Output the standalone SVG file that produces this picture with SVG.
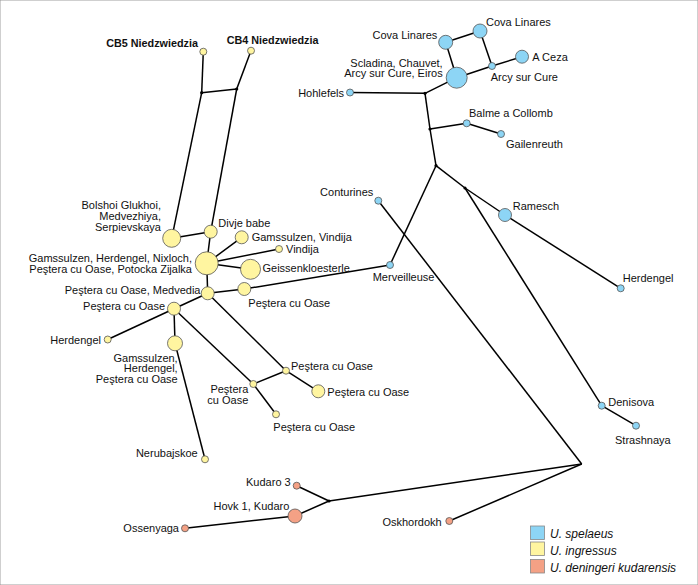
<svg xmlns="http://www.w3.org/2000/svg" width="698" height="585" viewBox="0 0 698 585">
<style>
text{font-family:"Liberation Sans",Arial,sans-serif;font-size:11px;fill:#111}
.b{font-weight:bold;font-size:10.8px}
.e{text-anchor:end}
.lg{font-style:italic;font-size:12px}
circle{stroke:#555;stroke-width:0.8}
.sp{fill:#8dd5f5}
.in{fill:#fff5a0}
.dk{fill:#f4a185}
#edges line{stroke:#000;stroke-width:1.5}
.j{fill:#000;stroke:none}
rect{stroke:#888;stroke-width:0.8}
</style>
<rect width="698" height="585" fill="#fff" stroke="none"/>
<g id="edges">
<line x1="203.3" y1="51.7" x2="201.7" y2="92.7"/>
<line x1="251" y1="50.7" x2="236.7" y2="89"/>
<line x1="201.7" y1="92.7" x2="236.7" y2="89"/>
<line x1="201.7" y1="92.7" x2="171.7" y2="238.3"/>
<line x1="236.7" y1="89" x2="210.7" y2="231.7"/>
<line x1="171.7" y1="238.3" x2="210.7" y2="231.7"/>
<line x1="210.7" y1="231.7" x2="206.7" y2="263.3"/>
<line x1="206.7" y1="263.3" x2="241.7" y2="237.3"/>
<line x1="206.7" y1="263.3" x2="279" y2="249"/>
<line x1="206.7" y1="263.3" x2="250.5" y2="269.3"/>
<line x1="206.7" y1="263.3" x2="207.7" y2="293.3"/>
<line x1="207.7" y1="293.3" x2="174" y2="308.7"/>
<line x1="207.7" y1="293.3" x2="244.3" y2="289"/>
<line x1="244.3" y1="289" x2="390" y2="265"/>
<line x1="207.7" y1="293.3" x2="286" y2="370.7"/>
<line x1="286" y1="370.7" x2="318.3" y2="391.3"/>
<line x1="174" y1="308.7" x2="253.3" y2="384"/>
<line x1="253.3" y1="384" x2="286" y2="370.7"/>
<line x1="253.3" y1="384" x2="276" y2="414.3"/>
<line x1="174" y1="308.7" x2="107.7" y2="339.5"/>
<line x1="174" y1="308.7" x2="175" y2="343.3"/>
<line x1="175" y1="343.3" x2="205" y2="459.3"/>
<line x1="390" y1="265" x2="436" y2="165.7"/>
<line x1="436" y1="165.7" x2="430" y2="129"/>
<line x1="430" y1="129" x2="425" y2="93.3"/>
<line x1="425" y1="93.3" x2="350" y2="92.5"/>
<line x1="425" y1="93.3" x2="456.7" y2="77.7"/>
<line x1="456.7" y1="77.7" x2="445.7" y2="42.3"/>
<line x1="445.7" y1="42.3" x2="480" y2="31"/>
<line x1="480" y1="31" x2="492" y2="66"/>
<line x1="456.7" y1="77.7" x2="492" y2="66"/>
<line x1="492" y1="66" x2="522" y2="56.7"/>
<line x1="430" y1="129" x2="466.7" y2="123.3"/>
<line x1="466.7" y1="123.3" x2="501" y2="134"/>
<line x1="436" y1="165.7" x2="465" y2="188"/>
<line x1="465" y1="188" x2="505" y2="215"/>
<line x1="505" y1="215" x2="620.7" y2="288.3"/>
<line x1="465" y1="188" x2="601.7" y2="405.7"/>
<line x1="601.7" y1="405.7" x2="636" y2="425.7"/>
<line x1="378.3" y1="200.7" x2="581.7" y2="464"/>
<line x1="581.7" y1="464" x2="449.3" y2="521"/>
<line x1="581.7" y1="464" x2="329" y2="501"/>
<line x1="329" y1="501" x2="296.7" y2="485.7"/>
<line x1="329" y1="501" x2="295" y2="516"/>
<line x1="295" y1="516" x2="185" y2="528.3"/>
</g>
<g id="junctions">
<circle class="j" cx="201.7" cy="92.7" r="1.6"/>
<circle class="j" cx="236.7" cy="89" r="1.6"/>
<circle class="j" cx="425" cy="93.3" r="1.6"/>
<circle class="j" cx="430" cy="129" r="1.6"/>
<circle class="j" cx="436" cy="165.7" r="1.6"/>
<circle class="j" cx="465" cy="188" r="1.6"/>
<circle class="j" cx="329" cy="501" r="1.6"/>
</g>
<g id="n_cb5"><circle class="in" cx="203.3" cy="51.7" r="3.5"/><text class="b e" x="198" y="46.5">CB5 Niedzwiedzia</text></g>
<g id="n_cb4"><circle class="in" cx="251" cy="50.7" r="3.5"/><text class="b" x="226.7" y="43.5">CB4 Niedzwiedzia</text></g>
<g id="n_bolshoi"><circle class="in" cx="171.7" cy="238.3" r="9"/><text class="e" x="161" y="209">Bolshoi Glukhoi,</text><text class="e" x="161" y="220">Medvezhiya,</text><text class="e" x="161" y="230.5">Serpievskaya</text></g>
<g id="n_divje"><circle class="in" cx="210.7" cy="231.7" r="6.5"/><text x="218.3" y="227">Divje babe</text></g>
<g id="n_gamvin"><circle class="in" cx="241.7" cy="237.3" r="6.5"/><text x="251.7" y="240.5">Gamssulzen, Vindija</text></g>
<g id="n_vindija"><circle class="in" cx="279" cy="249" r="3.5"/><text x="286" y="253">Vindija</text></g>
<g id="n_central"><circle class="in" cx="206.7" cy="263.3" r="11.5"/><text class="e" x="192" y="262">Gamssulzen, Herdengel, Nixloch,</text><text class="e" x="192" y="273">Peştera cu Oase, Potocka Zijalka</text></g>
<g id="n_geissen"><circle class="in" cx="250.5" cy="269.3" r="10"/><text x="262.5" y="271.5">Geissenkloesterle</text></g>
<g id="n_medvedia"><circle class="in" cx="207.7" cy="293.3" r="6.5"/><text class="e" x="200.5" y="294">Peştera cu Oase, Medvedia</text></g>
<g id="n_oase_r"><circle class="in" cx="244.3" cy="289" r="6.5"/><text x="248.3" y="306.5">Peştera cu Oase</text></g>
<g id="n_oase_l"><circle class="in" cx="174" cy="308.7" r="6.5"/><text class="e" x="165" y="310">Peştera cu Oase</text></g>
<g id="n_herd_y"><circle class="in" cx="107.7" cy="339.5" r="3.5"/><text class="e" x="101" y="344">Herdengel</text></g>
<g id="n_gams"><circle class="in" cx="175" cy="343.3" r="7.5"/><text class="e" x="177.7" y="361.7">Gamssulzen,</text><text class="e" x="177.7" y="372.3">Herdengel,</text><text class="e" x="177.7" y="383">Peştera cu Oase</text></g>
<g id="n_nerub"><circle class="in" cx="205" cy="459.3" r="3.5"/><text class="e" x="197.7" y="457">Nerubajskoe</text></g>
<g id="n_oase_j"><circle class="in" cx="253.3" cy="384" r="3.5"/><text class="e" x="248.3" y="393">Peştera</text><text class="e" x="248.3" y="404">cu Oase</text></g>
<g id="n_oase_up"><circle class="in" cx="286" cy="370.7" r="3.5"/><text x="291" y="369.5">Peştera cu Oase</text></g>
<g id="n_oase_big"><circle class="in" cx="318.3" cy="391.3" r="6.5"/><text x="327.3" y="396">Peştera cu Oase</text></g>
<g id="n_oase_low"><circle class="in" cx="276" cy="414.3" r="3.5"/><text x="273.3" y="430.5">Peştera cu Oase</text></g>
<g id="n_merv"><circle class="sp" cx="390" cy="265" r="3.5"/><text x="372.7" y="280.5">Merveilleuse</text></g>
<g id="n_contur"><circle class="sp" cx="378.3" cy="200.7" r="3.5"/><text class="e" x="373.3" y="195.5">Conturines</text></g>
<g id="n_hohle"><circle class="sp" cx="350" cy="92.5" r="3.5"/><text class="e" x="344" y="96.5">Hohlefels</text></g>
<g id="n_scladina"><circle class="sp" cx="456.7" cy="77.7" r="10.5"/><text class="e" x="442.7" y="66.7">Scladina, Chauvet,</text><text class="e" x="442.7" y="77.3">Arcy sur Cure, Eiros</text></g>
<g id="n_cova_l"><circle class="sp" cx="445.7" cy="42.3" r="7"/><text class="e" x="437.3" y="39">Cova Linares</text></g>
<g id="n_cova_r"><circle class="sp" cx="480" cy="31" r="7"/><text x="486" y="26">Cova Linares</text></g>
<g id="n_arcy"><circle class="sp" cx="492" cy="66" r="3.5"/><text x="490.7" y="80.5">Arcy sur Cure</text></g>
<g id="n_aceza"><circle class="sp" cx="522" cy="56.7" r="6.5"/><text x="532.3" y="61">A Ceza</text></g>
<g id="n_balme"><circle class="sp" cx="466.7" cy="123.3" r="3.5"/><text x="469" y="117">Balme a Collomb</text></g>
<g id="n_gailen"><circle class="sp" cx="501" cy="134" r="3.5"/><text x="506" y="148">Gailenreuth</text></g>
<g id="n_ramesch"><circle class="sp" cx="505" cy="215" r="6.5"/><text x="512.7" y="209.5">Ramesch</text></g>
<g id="n_herd_b"><circle class="sp" cx="620.7" cy="288.3" r="3.5"/><text x="622.7" y="282">Herdengel</text></g>
<g id="n_denisova"><circle class="sp" cx="601.7" cy="405.7" r="3.5"/><text x="608.3" y="405.5">Denisova</text></g>
<g id="n_strash"><circle class="sp" cx="636" cy="425.7" r="3.5"/><text x="615" y="444">Strashnaya</text></g>
<g id="n_kudaro3"><circle class="dk" cx="296.7" cy="485.7" r="3.5"/><text class="e" x="290.7" y="486">Kudaro 3</text></g>
<g id="n_hovk"><circle class="dk" cx="295" cy="516" r="7"/><text class="e" x="289.3" y="510">Hovk 1, Kudaro</text></g>
<g id="n_ossen"><circle class="dk" cx="185" cy="528.3" r="3.5"/><text class="e" x="179" y="532">Ossenyaga</text></g>
<g id="n_oskh"><circle class="dk" cx="449.3" cy="521" r="3.5"/><text class="e" x="441.7" y="526">Oskhordokh</text></g>
<g id="legend">
<rect class="sp" x="530.5" y="526" width="14" height="13.5"/><text class="lg" x="550" y="538">U. spelaeus</text>
<rect class="in" x="530.5" y="542" width="14" height="13.5"/><text class="lg" x="550" y="555">U. ingressus</text>
<rect class="dk" x="530.5" y="559.5" width="14" height="13.5"/><text class="lg" x="550" y="572">U. deningeri kudarensis</text>
</g>
</svg>
